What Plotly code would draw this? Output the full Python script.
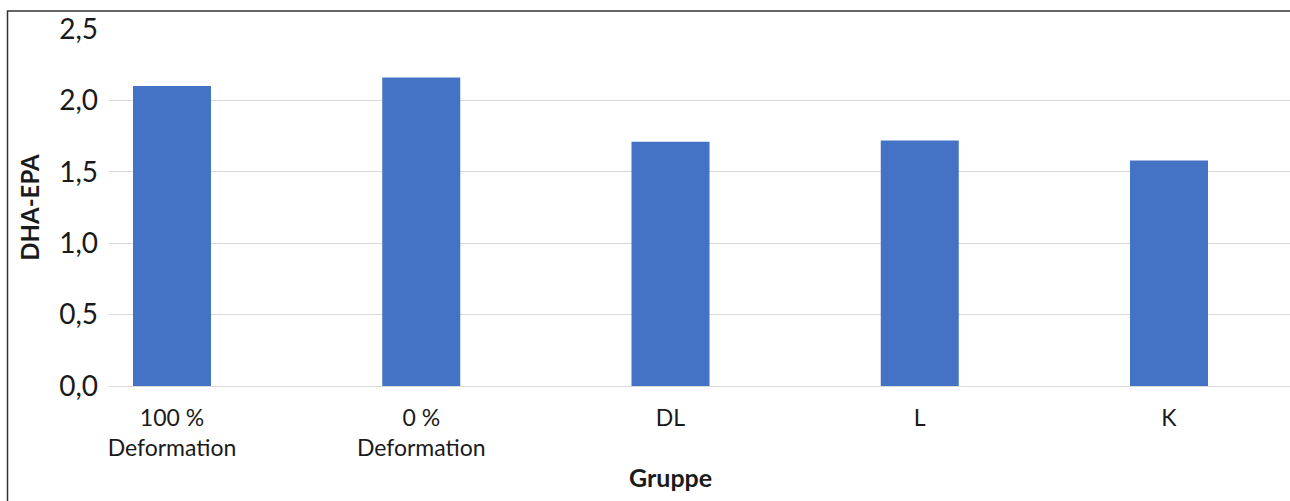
import plotly.graph_objects as go

# DHA-EPA per group
groups = ["100 %<br>Deformation", "0 %<br>Deformation", "DL", "L", "K"]
dha_epa = [2.10, 2.16, 1.71, 1.72, 1.58]

y_ticks = [0.0, 0.5, 1.0, 1.5, 2.0, 2.5]

W, H = 1290, 501
ML, MR, MT, MB = 109, 0, 29, 115
plot_w = W - ML - MR
plot_h = H - MT - MB

font_family = "Lato, 'Open Sans', sans-serif"
text_color = "#1a1a1a"
bar_color = "#4472C4"
grid_color = "#D9D9D9"

fig = go.Figure(
    go.Bar(
        x=list(range(len(groups))),
        y=dha_epa,
        width=0.313,
        marker=dict(color=bar_color, line=dict(width=0)),
        hoverinfo="skip",
    )
)

fig.update_layout(
    width=W,
    height=H,
    margin=dict(l=ML, r=MR, t=MT, b=MB, pad=0),
    paper_bgcolor="white",
    plot_bgcolor="white",
    separators=", ",
    showlegend=False,
    font=dict(family=font_family, color=text_color),
    xaxis=dict(
        tickmode="array",
        tickvals=list(range(len(groups))),
        ticktext=groups,
        range=[-0.2528, 4.4855],
        showgrid=False,
        zeroline=False,
        showline=True,
        linecolor=grid_color,
        linewidth=1,
        ticks="",
        ticklabelstandoff=11,
        tickfont=dict(size=23, color=text_color),
    ),
    yaxis=dict(
        range=[0, 2.5],
        tickvals=y_ticks,
        tickformat=".1f",
        showgrid=True,
        gridcolor=grid_color,
        gridwidth=1,
        zeroline=False,
        showline=False,
        ticks="",
        ticklabelstandoff=10,
        tickfont=dict(size=28, color=text_color),
        title=dict(
            text="<b>DHA-EPA</b>",
            font=dict(size=24, color=text_color),
            standoff=12,
        ),
    ),
    annotations=[
        dict(
            text="<b>Gruppe</b>",
            x=2,
            xref="x",
            y=-(477 - (MT + plot_h)) / plot_h,
            yref="paper",
            yanchor="middle",
            xanchor="center",
            showarrow=False,
            font=dict(size=25, color=text_color),
        )
    ],
    shapes=[
        # outer frame of the chart
        dict(
            type="rect",
            xref="paper",
            yref="paper",
            x0=(7.5 - ML) / plot_w,
            x1=1.06,
            y0=-(H - MT - plot_h + 20) / plot_h,
            y1=1 + (MT - 11) / plot_h,
            line=dict(color="#333333", width=1.5),
            fillcolor="rgba(0,0,0,0)",
            layer="above",
        )
    ],
)

fig.write_html("out.html")
